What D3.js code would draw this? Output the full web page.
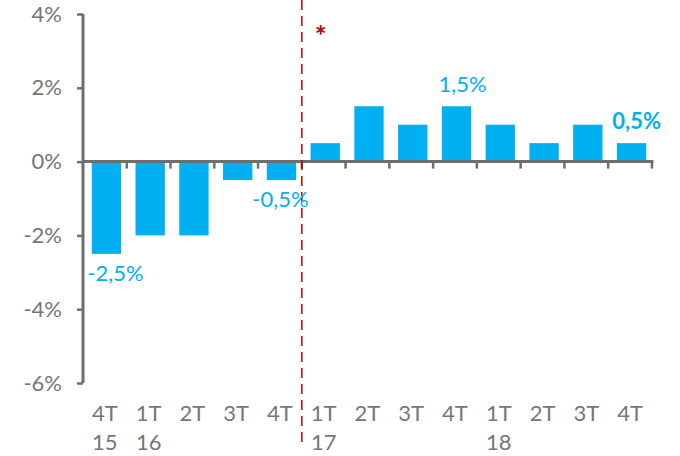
<!DOCTYPE html>
<html><head><meta charset="utf-8">
<script src="https://cdn.jsdelivr.net/npm/d3@7"></script>
<style>
html,body{margin:0;padding:0;background:#fff;}
svg{display:block;font-family:Lato,"Open Sans",sans-serif;}
</style></head>
<body>
<svg id="chart" width="680" height="456"></svg>
<script>
const quarters = ["4T","1T","2T","3T","4T","1T","2T","3T","4T","1T","2T","3T","4T"];
const years    = ["15","16","","","","17","","","","18","","",""];
const values   = [-2.5,-2,-2,-0.5,-0.5,0.5,1.5,1,1.5,1,0.5,1,0.5];
const yTicks   = [-6,-4,-2,0,2,4];
const labelIdx = [0,4,8,12];
const labelText = ["-2,5%","-0,5%","1,5%","0,5%"];
const labelBold = [false,false,false,true];
const labelShift = [9,-1,6,5];
const breakIndex = 5; // dashed line before 1T 17

const svg = d3.select("#chart");
const x = d3.scaleBand().domain(d3.range(values.length)).range([83,655]).paddingInner(0.33).paddingOuter(0.2);
const y = d3.scaleLinear().domain([-6,4]).range([383,14]);
const blue = "#00B0F0", grey = "#6e6e6e", textGrey = "#767676";
const fs = 22;

// bars
svg.append("g").selectAll("rect").data(values).join("rect")
  .attr("x",(d,i)=>x(i)).attr("width",x.bandwidth())
  .attr("y",d=>y(Math.max(0,d))).attr("height",d=>Math.abs(y(d)-y(0)))
  .attr("fill",blue);

// y axis
const yAxis = d3.axisLeft(y).tickValues(yTicks).tickFormat(d=>d+"%").tickSize(6).tickPadding(15);
const ga = svg.append("g").attr("transform","translate(83,0)").call(yAxis);
ga.select(".domain").attr("stroke",grey).attr("stroke-width",3).attr("d","M0,"+y(-6)+"V"+y(4));
ga.selectAll(".tick line").attr("stroke",grey).attr("stroke-width",2.5);
ga.selectAll(".tick text").attr("fill",textGrey).attr("font-size",fs).attr("font-family","Lato, sans-serif");

// x axis line & ticks at category boundaries
const step = x.step();
const x0 = 83;
const gx = svg.append("g");
gx.append("line").attr("x1",x0).attr("x2",x0+step*values.length+1.5).attr("y1",y(0)).attr("y2",y(0))
  .attr("stroke",grey).attr("stroke-width",3);
gx.selectAll("line.t").data(d3.range(1,values.length+1)).join("line").attr("class","t")
  .attr("x1",i=>x0+step*i).attr("x2",i=>x0+step*i).attr("y1",y(0)).attr("y2",y(0)+7)
  .attr("stroke",grey).attr("stroke-width",2.5);

// x labels
const xl = svg.append("g").attr("fill",textGrey).attr("font-size",fs).attr("text-anchor","middle");
xl.selectAll("text.q").data(quarters).join("text").attr("class","q")
  .attr("x",(d,i)=>x0+step*(i+0.5)).attr("y",421).text(d=>d);
xl.selectAll("text.yr").data(years).join("text").attr("class","yr")
  .attr("x",(d,i)=>x0+step*(i+0.5)).attr("y",450).text(d=>d);

// dashed break line
const bx = x0+step*breakIndex;
svg.append("line").attr("x1",bx).attr("x2",bx).attr("y1",0).attr("y2",445)
  .attr("stroke","#C00000").attr("stroke-width",1.5).attr("stroke-dasharray","10,6");
svg.append("text").attr("x",bx+19).attr("y",46).attr("text-anchor","middle")
  .attr("fill","#C00000").attr("font-size",28).attr("font-weight","bold").text("*");

// data labels
svg.append("g").selectAll("text").data(labelIdx).join("text")
  .attr("x",(d,k)=>x(d)+x.bandwidth()/2+labelShift[k])
  .attr("y",d=>values[d]<0? y(values[d])+27 : y(values[d])-14)
  .attr("text-anchor","middle").attr("fill",blue).attr("font-size",fs)
  .attr("font-weight",(d,k)=>labelBold[k]?"bold":"normal")
  .text((d,k)=>labelText[k]);
</script>
</body></html>
